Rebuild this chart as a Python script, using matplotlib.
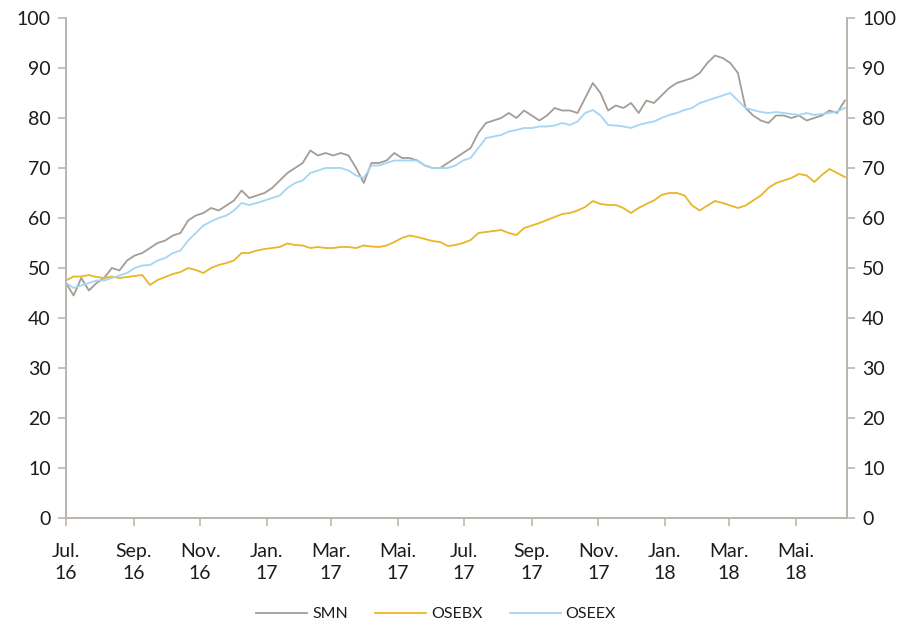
import numpy as np
import pandas as pd
import matplotlib
matplotlib.use('Agg')
import matplotlib.pyplot as plt

plt.rcParams['font.family'] = ['Lato', 'DejaVu Sans']

# weekly observations from 1 Jul 2016
dates = pd.date_range('2016-07-01', periods=103, freq='7D')

smn = [47, 44.5, 48, 45.5, 47, 48, 50, 49.5, 51.5, 52.5,
       53, 54, 55, 55.5, 56.5, 57, 59.5, 60.5, 61, 62,
       61.5, 62.5, 63.5, 65.5, 64, 64.5, 65, 66, 67.5, 69,
       70, 71, 73.5, 72.5, 73, 72.5, 73, 72.5, 70, 67,
       71, 71, 71.5, 73, 72, 72, 71.5, 70.5, 70, 70,
       71, 72, 73, 74, 77, 79, 79.5, 80, 81, 80,
       81.5, 80.5, 79.5, 80.5, 82, 81.5, 81.5, 81, 84, 87,
       85, 81.5, 82.5, 82, 83, 81, 83.5, 83, 84.5, 86,
       87, 87.5, 88, 89, 91, 92.5, 92, 91, 89, 82,
       80.5, 79.5, 79, 80.5, 80.5, 80, 80.5, 79.5, 80, 80.5,
       81.5, 81, 83.5]

osebx = [47.5, 48.3, 48.3, 48.6, 48.2, 48, 48.3, 48, 48.2, 48.4,
         48.6, 46.6, 47.6, 48.2, 48.8, 49.2, 50, 49.6, 49, 50,
         50.6, 51, 51.5, 53, 53, 53.5, 53.8, 54, 54.2, 54.9,
         54.6, 54.5, 54, 54.2, 54, 54, 54.2, 54.2, 54, 54.5,
         54.3, 54.2, 54.5, 55.2, 56, 56.5, 56.2, 55.8, 55.4, 55.2,
         54.4, 54.6, 55, 55.6, 57, 57.2, 57.4, 57.6, 57, 56.6,
         58, 58.5, 59, 59.6, 60.2, 60.8, 61, 61.5, 62.2, 63.4,
         62.8, 62.6, 62.6, 62, 61, 62, 62.8, 63.5, 64.6, 65,
         65, 64.5, 62.5, 61.5, 62.5, 63.4, 63, 62.5, 62, 62.5,
         63.5, 64.5, 66, 67, 67.5, 68, 68.8, 68.5, 67.2, 68.6,
         69.8, 69, 68.2]

oseex = [47, 46, 46.5, 47, 47.5, 47.5, 48, 48.5, 49, 50,
         50.5, 50.6, 51.5, 52, 53, 53.5, 55.5, 57, 58.5, 59.3,
         60, 60.5, 61.5, 63, 62.6, 63, 63.5, 64, 64.5, 66,
         67, 67.5, 69, 69.5, 70, 70, 70, 69.5, 68.5, 68,
         70.5, 70.5, 71, 71.5, 71.5, 71.5, 71.5, 70.5, 70, 70,
         70, 70.5, 71.5, 72, 74, 76, 76.3, 76.6, 77.3, 77.6,
         78, 78, 78.3, 78.3, 78.5, 79, 78.6, 79.3, 81, 81.6,
         80.5, 78.6, 78.5, 78.3, 78, 78.6, 79, 79.3, 80, 80.6,
         81, 81.6, 82, 83, 83.5, 84, 84.5, 85, 83.5, 82,
         81.6, 81.2, 81, 81.2, 81, 80.8, 80.6, 81, 80.6, 80.8,
         81, 81.3, 82]

tick_dates = pd.date_range('2016-07-01', '2018-05-01', freq='2MS')
tick_labels = ['Jul.\n16', 'Sep.\n16', 'Nov.\n16', 'Jan.\n17', 'Mar.\n17', 'Mai.\n17',
               'Jul.\n17', 'Sep.\n17', 'Nov.\n17', 'Jan.\n18', 'Mar.\n18', 'Mai.\n18']

axcol = '#bdb6ae'
txtcol = '#1e1b1c'

fig = plt.figure(figsize=(9, 6.25), dpi=100)
ax = fig.add_axes([0.0733, 0.1712, 0.8678, 0.8])

ax.plot(dates, smn, color='#a59c95', lw=1.3, label='SMN')
ax.plot(dates, osebx, color='#e9b625', lw=1.3, label='OSEBX')
ax.plot(dates, oseex, color='#a3d6f2', lw=1.3, label='OSEEX')

ax.set_xlim(pd.Timestamp('2016-07-01'), pd.Timestamp('2018-06-17'))
ax.set_ylim(0, 100)
ax.set_yticks(np.arange(0, 101, 10))
ax.set_xticks(tick_dates)
ax.set_xticklabels(tick_labels, linespacing=1.35)

ax2 = ax.twinx()
ax2.set_ylim(0, 100)
ax2.set_yticks(np.arange(0, 101, 10))

for a in (ax, ax2):
    for s in a.spines.values():
        s.set_color(axcol)
        s.set_linewidth(1.3)
    a.spines['top'].set_visible(False)
    a.tick_params(color=axcol, width=1.2, length=6, labelsize=14, labelcolor=txtcol)
ax.tick_params(axis='x', pad=12)
ax.tick_params(axis='y', pad=5)
ax2.tick_params(axis='y', pad=5)

ax.legend(loc='lower center', bbox_to_anchor=(0.474, -0.235), ncol=3, frameon=False,
          fontsize=11.5, handlelength=3.2, handletextpad=0.3, columnspacing=1.7,
          labelcolor=txtcol)

fig.savefig('out.png', dpi=100)
